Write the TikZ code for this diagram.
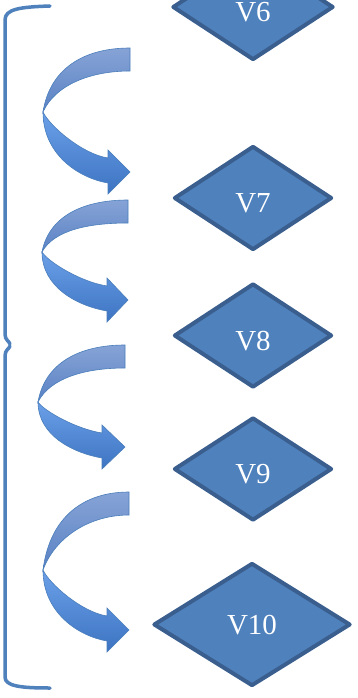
\documentclass[tikz,border=0pt]{standalone}
\usepackage{fontspec}
\setmainfont{Liberation Serif}
\usetikzlibrary{shapes.geometric}
\definecolor{dfill}{HTML}{4F81BD}
\definecolor{dline}{HTML}{3A5F8E}
\definecolor{brc}{HTML}{4F81BD}
\definecolor{abord}{HTML}{4A7EBB}
\definecolor{ubA}{HTML}{86A3D6}
\definecolor{ubB}{HTML}{5A82C4}
\definecolor{lbA}{HTML}{6BA0E8}
\definecolor{lbB}{HTML}{3D74C2}
\newcommand\myarrow[6]{%
 \path[upperband] (#1,#2) .. controls ({#1-0.52*(#1-#3)},#2) and ({#3+0.08*(#1-#3)},{#2+0.31*(#4-#2)}) .. (#3,#4)
   .. controls ({#3+0.14*(#1-#3)},{#4-0.42*(#4-#2)}) and ({#1-0.46*(#1-#3)},{#2+23}) .. (#1,{#2+23}) -- cycle;
 \path[lowerband] (#3,#4) .. controls (#3,{#4+0.6*(#6+11-#4)}) and ({#5-0.45*(#5-#3)},{#6+6}) .. (#5,{#6+11})
   -- (#5,{#6+22}) -- (#1,#6) -- (#5,{#6-22}) -- (#5,{#6-14})
   .. controls ({#5-0.4*(#5-#3)},{#6-18}) and ({#3+0.1*(#5-#3)},{#4+0.3*(#6-14-#4)}) .. (#3,#4) -- cycle;
}
\begin{document}
\begin{tikzpicture}[x=1pt,y=-1pt,
  vnode/.style={diamond, draw=dline, fill=dfill, line width=4pt, line join=round,
    text=white, font=\fontsize{29}{29}\selectfont, inner sep=0pt, text height=29pt, text depth=0pt},
  upperband/.style={draw=abord, line width=0.6pt, top color=ubA, bottom color=ubB},
  lowerband/.style={draw=abord, line width=0.6pt, top color=lbA, bottom color=lbB},
  brace/.style={draw=brc, line width=3.5pt, line cap=round}]
\useasboundingbox (0,0) rectangle (358,698);
\clip (0,0) rectangle (358,698);
\fill[white] (0,0) rectangle (358,698);
% brackets
\draw[brace] (50,6) .. controls (20,7) and (5,9) .. (5,20) -- (5,334) .. controls (5,340) and (9,341) .. (10,344);
\draw[brace] (10,346) .. controls (9,349) and (5,350) .. (5,356) -- (5,677) .. controls (5,686) and (20,688) .. (50,688);
% diamonds
\node[vnode, minimum width=161pt, minimum height=106pt] (v6) at (253,7) {V6};
\node[vnode, minimum width=158pt, minimum height=104pt] (v7) at (253,198) {V7};
\node[vnode, minimum width=158pt, minimum height=104pt] (v8) at (253,335.5) {V8};
\node[vnode, minimum width=158pt, minimum height=103pt] (v9) at (253,469) {V9};
\node[vnode, minimum width=197pt, minimum height=123pt, text height=20pt] (v10) at (252,624.5) {V10};
% curved arrows
\myarrow{130}{48}{43}{112}{108}{172}
\myarrow{128}{200}{42}{252}{107}{300}
\myarrow{125}{345}{38}{402}{102}{447}
\myarrow{129}{492}{43}{570}{107}{630}
\end{tikzpicture}
\end{document}
